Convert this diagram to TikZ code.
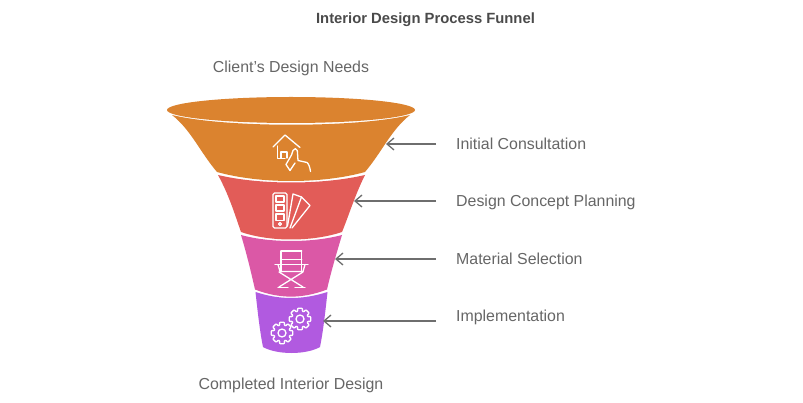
\documentclass[tikz,border=0pt]{standalone}
\usepackage{fontspec}
\setmainfont{Liberation Sans}[Ligatures=ResetAll]
\usetikzlibrary{arrows.meta,calc}
\definecolor{cOrange}{HTML}{DB832F}
\definecolor{cRed}{HTML}{E25C58}
\definecolor{cPink}{HTML}{DB58A6}
\definecolor{cPurple}{HTML}{B15AE0}
\definecolor{cText}{HTML}{666666}
\definecolor{cTitle}{HTML}{4A4A4A}
\definecolor{cArrow}{HTML}{6E6E6E}
\tikzset{
  lab/.style={font=\fontsize{15.9}{18}\selectfont,text=cText,inner sep=0pt},
  titlelab/.style={font=\fontsize{14.8}{18}\selectfont\bfseries,text=cTitle,inner sep=0pt},
  pointer/.style={draw=cArrow,line width=1.3pt,-{Straight Barb[length=7pt,width=12pt,line width=1.3pt]},shorten <=20pt},
  icon/.style={draw=white,line width=1.3pt,line join=round,line cap=round,fill=none},
}
\newcommand{\gearicon}[2]{%
  \draw[icon] (#1,#2) circle (4);
  \draw[icon,rounded corners=0.8pt]
    \foreach \a [count=\i] in {0,45,...,315} {
      \ifnum\i=1 ($(#1,#2)+(\a-13:11)$) \else -- ($(#1,#2)+(\a-13:11)$) \fi
      -- ($(#1,#2)+(\a+13:11)$) -- ($(#1,#2)+(\a+17:8)$) -- ($(#1,#2)+(\a+28:8)$)
    } -- cycle;
}
\begin{document}
\begin{tikzpicture}[x=1pt,y=-1pt]
\useasboundingbox (0,0) rectangle (803,403);
% funnel bands
\fill[cPurple] (255.5,292) .. controls (280,300) and (302,300) .. (327.5,292)
   .. controls (325,315) and (323,332) .. (320,347)
   .. controls (306,355) and (277,355) .. (263,347)
   .. controls (260,332) and (258,315) .. (255.5,292) -- cycle;
\fill[cPink] (241,235) .. controls (270,243) and (312,243) .. (342,235)
   .. controls (336,255) and (331,272) .. (327,289.5)
   .. controls (302,299) and (280,299) .. (255,289.5)
   .. controls (251,272) and (247,255) .. (241,235) -- cycle;
\fill[cRed] (218,175) .. controls (260,185) and (322,185) .. (365,175)
   .. controls (355,195) and (349,215) .. (342,232)
   .. controls (312,242) and (270,242) .. (241,232)
   .. controls (235,215) and (229,195) .. (218,175) -- cycle;
\fill[cOrange] (172,115) .. controls (225,128) and (357,128) .. (410,115)
   .. controls (391,130) and (382,152) .. (365,172)
   .. controls (322,184) and (260,184) .. (217,172)
   .. controls (200,152) and (191,130) .. (172,115) -- cycle;
\fill[cOrange] (291,110) ellipse [x radius=124,y radius=13];
% house icon
\draw[icon] (273,147) -- (285,135) -- (300,147.5);
\draw[icon] (277.5,146) -- (277.5,158.5) -- (285,158.5);
\draw[icon] (281,158.5) -- (281,152) -- (287,152) -- (287,158);
\draw[icon] (290,170.5) -- (286,164.5) -- (291.5,155) -- (293,150.5) .. controls (294,148) and (297,148) .. (297.3,150.5)
   -- (298,160.5) -- (307,162.5) .. controls (309,164) and (310,168) .. (310.5,171.5);
\draw[icon] (290,170.5) -- (295,163);
% swatch icon
\draw[icon,rounded corners=1.5pt] (273,193) rectangle (287,228);
\draw[icon] (276,196) rectangle (284,202) (276,205) rectangle (284,211) (276,214) rectangle (284,220.5);
\draw[icon] (280,224) circle (1.5);
\draw[icon] (287.5,226) -- (293,194) -- (301.5,197) -- (290,228);
\draw[icon] (301.5,197) -- (310,205.5) -- (292,228);
% chair icon
\draw[icon] (281,251) -- (281,272) (301.7,251) -- (301.7,272);
\draw[icon] (281,251) -- (301.7,251) (281,259.5) -- (301.7,259.5);
\draw[icon] (275,264.5) -- (308,264.5);
\draw[icon] (278,264.5) -- (280,271.5) -- (303,271.5) -- (305,264.5);
\draw[icon] (279,287) -- (303,272) (303,287) -- (279,272);
\draw[icon] (278,287.5) -- (288,287.5) (295,287.5) -- (305,287.5);
% gear icons
\gearicon{300}{319}
\gearicon{282}{333}
% labels
\node[titlelab,anchor=base] (title) at (425.5,24) {Interior Design Process Funnel};
\node[lab,anchor=base] (top) at (291,72.5) {Client's Design Needs};
\node[lab,anchor=base] (bottom) at (291,389) {Completed Interior Design};
\node[lab,anchor=base west] (l1) at (456,149.5) {Initial Consultation};
\node[lab,anchor=base west] (l2) at (456,207) {Design Concept Planning};
\node[lab,anchor=base west] (l3) at (456,264.5) {Material Selection};
\node[lab,anchor=base west] (l4) at (456,322) {Implementation};
% pointer ends
\coordinate (t1) at (386,144);
\coordinate (t2) at (354,201);
\coordinate (t3) at (335,259);
\coordinate (t4) at (323,321);
\draw[pointer] (l1.west |- t1) -- (t1);
\draw[pointer] (l2.west |- t2) -- (t2);
\draw[pointer] (l3.west |- t3) -- (t3);
\draw[pointer] (l4.west |- t4) -- (t4);
\end{tikzpicture}
\end{document}
